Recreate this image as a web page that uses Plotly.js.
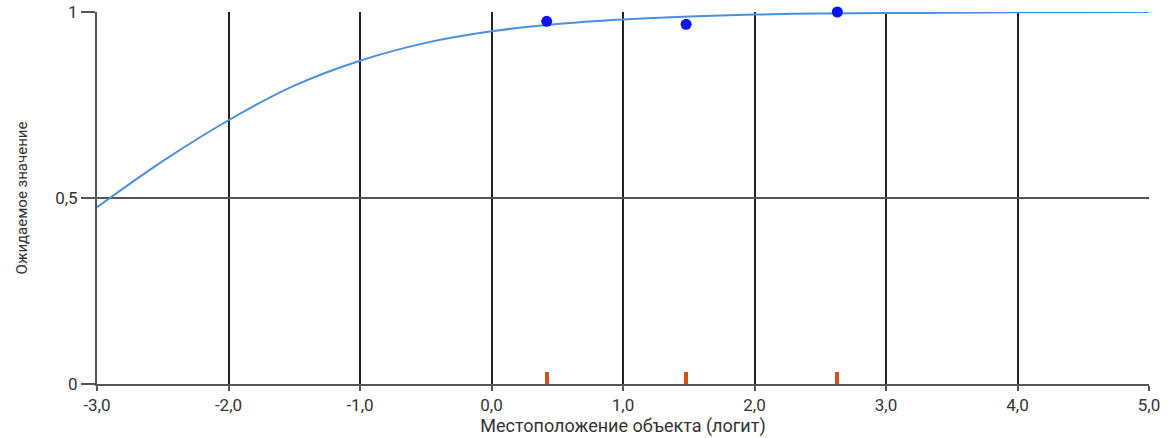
<!DOCTYPE html>
<html>
<head>
<meta charset="utf-8">
<script src="https://cdn.plot.ly/plotly-3.0.1.min.js"></script>
<style>
  html, body { margin: 0; padding: 0; background: #ffffff; }
  #chart { width: 1176px; height: 438px; }
</style>
</head>
<body>
<div id="chart"></div>
<script>
// Expected-score curve
const curveX = [-3.0, -2.5, -2.0, -1.5, -1.0, -0.5, 0.0, 0.5, 1.0, 1.5, 2.0, 2.5, 3.0, 3.5, 4.0, 4.5, 5.0];
const curveY = [0.475, 0.599, 0.709, 0.802, 0.869, 0.917, 0.948, 0.968, 0.980, 0.988, 0.993, 0.996, 0.997, 0.998, 0.999, 0.9995, 0.9997];

// Observed points
const pointX = [0.42, 1.48, 2.63];
const pointY = [0.975, 0.967, 1.0];

// Item location markers at the bottom
const itemX = [0.42, 1.48, 2.63];
const itemH = [0.031, 0.031, 0.031];

// Tick labels
const xTickVals = [-3, -2, -1, 0, 1, 2, 3, 4, 5];
const xTickText = ["-3,0", "-2,0", "-1,0", "0,0", "1,0", "2,0", "3,0", "4,0", "5,0"];
const yTickVals = [0, 0.5, 1];
const yTickText = ["0", "0,5", "1"];

const xTitle = "Местоположение объекта (логит)";
const yTitle = "Ожидаемое значение";

const traces = [
  {
    type: "bar",
    x: itemX,
    y: itemH,
    width: 0.03,
    marker: { color: "#d4501e", line: { width: 0 } },
    hoverinfo: "skip",
    showlegend: false
  },
  {
    type: "scatter",
    mode: "lines",
    x: curveX,
    y: curveY,
    line: { color: "#4a8fe0", width: 2, shape: "spline", smoothing: 1 },
    showlegend: false
  },
  {
    type: "scatter",
    mode: "markers",
    x: pointX,
    y: pointY,
    marker: { color: "#0a14f0", size: 11 },
    cliponaxis: false,
    showlegend: false
  }
];

const layout = {
  width: 1176,
  height: 438,
  margin: { l: 97, r: 27, t: 12, b: 54 },
  paper_bgcolor: "#ffffff",
  plot_bgcolor: "#ffffff",
  font: { family: "Roboto, 'Open Sans', sans-serif", color: "#333333", size: 17 },
  separators: ", ",
  showlegend: false,
  xaxis: {
    range: [-3, 5],
    tickvals: xTickVals,
    ticktext: xTickText,
    ticks: "outside",
    ticklen: 5,
    tickcolor: "#555555",
    tickwidth: 2,
    showline: true,
    linecolor: "#555555",
    linewidth: 2,
    showgrid: true,
    gridcolor: "#222222",
    gridwidth: 1.5,
    zeroline: false,
    tickfont: { size: 17, color: "#333333" },
    title: { text: xTitle, font: { size: 18, color: "#333333" }, standoff: 3 },
    automargin: false,
    fixedrange: true
  },
  yaxis: {
    range: [0, 1],
    tickvals: yTickVals,
    ticktext: yTickText,
    ticks: "outside",
    ticklen: 14,
    tickcolor: "#555555",
    tickwidth: 2,
    showline: true,
    linecolor: "#555555",
    linewidth: 2,
    showgrid: true,
    gridcolor: "#555555",
    gridwidth: 1.5,
    zeroline: false,
    tickfont: { size: 17, color: "#333333" },
    title: { text: yTitle, font: { size: 15, color: "#333333" }, standoff: 24 },
    automargin: false,
    fixedrange: true
  },
  bargap: 0
};

Plotly.newPlot("chart", traces, layout, { displayModeBar: false });
</script>
</body>
</html>
